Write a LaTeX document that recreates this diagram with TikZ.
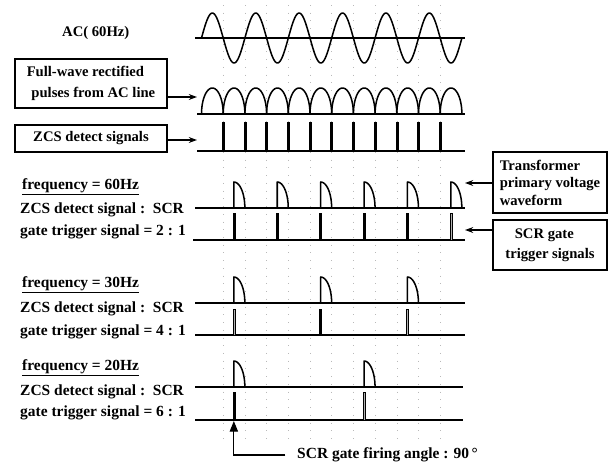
\documentclass[tikz,border=0pt]{standalone}
\usepackage{fontspec}
\setmainfont{Liberation Serif}
\usepackage{tikz}
\usetikzlibrary{positioning,arrows.meta}
\tikzset{
  ax/.style={draw=black, line width=1.4pt},
  wv/.style={draw=black, line width=1.3pt, line join=round},
  spk/.style={draw=black, fill=black, line width=0.5pt},
  spkg/.style={draw=black, fill=gray!60, line width=0.5pt},
  grd/.style={draw=gray!55, line width=0.5pt, dash pattern=on 0.6pt off 6pt},
  tbox/.style={draw=black, line width=1.2pt, inner sep=4pt, align=left, font=\fontsize{12.5}{15}\selectfont\bfseries},
  lbl/.style={anchor=west, inner sep=0pt, font=\fontsize{13.2}{15}\selectfont\bfseries},
  pt/.style={draw=black, line width=1.2pt, -{Stealth[length=7pt,width=5pt]}},
  firept/.style={draw=black, line width=0.9pt, -{Triangle[length=9pt,width=7pt]}},
  timing/.style={x=0.03cm, y=-0.03cm}
}

\begin{document}
\begin{tikzpicture}[timing]
  \useasboundingbox (0,0) rectangle (610,465);
  % faint grid at the zero crossings
  \foreach \k in {1,...,11}
    \draw[grd] ({201.5+21.7*\k},5) -- ({201.5+21.7*\k},440);

  % AC line
  \node[lbl, font=\fontsize{12.5}{15}\selectfont\bfseries] (ac) at (62,33) {AC( 60Hz)};
  \draw[ax] (195,38) -- (465,38);
  \draw[wv] plot[variable=\t, domain=0:12, samples=241] ({201.5+21.7*\t},{38-25*sin(\t*180)});

  % full-wave rectified
  \node[tbox, minimum width=4.56cm, minimum height=1.47cm] (fw) at (91,83.5)
    {Full-wave rectified\\[3pt]\hspace*{4pt}pulses from AC line};
  \draw[ax] (197,114) -- (465,114);
  \foreach \k in {0,...,11}
    \draw[wv] plot[variable=\t, domain=0:180, samples=25]
      ({201.5+21.7*\k+10.85*(1-cos(\t))},{114-26*sin(\t)});
  \coordinate (fwa) at (197,97);
  \draw[pt] (fw.east |- fwa) -- (fwa);

  % ZCS detect signals
  \node[tbox, align=center, minimum width=4.56cm, minimum height=0.81cm] (zcs) at (91,138.5)
    {ZCS detect signals};
  \draw[ax] (197,151) -- (465,151);
  \foreach \k in {1,...,11}
    \draw[spk] ({201.5+21.7*\k-1},151) rectangle ({201.5+21.7*\k+1},122);
  \coordinate (zca) at (197,140);
  \draw[pt] (zcs.east |- zca) -- (zca);

  % 60Hz
  \node[lbl] (f60) at (22,187) {\underline{frequency = 60Hz}};
  \node[lbl] (z60) at (20,210) {ZCS detect signal :\ \ SCR};
  \node[lbl] (g60) at (20,232) {gate trigger signal = 2 : 1};
  \draw[ax] (195,208) -- (465,208);
  \draw[ax] (193,240) -- (465,240);
  \foreach \k/\s in {0/spk,1/spk,2/spk,3/spk,4/spk,5/spkg}{
    \pgfmathsetmacro{\fx}{233.85+43.4*\k}
    \draw[wv] (\fx,208) -- plot[variable=\t, domain=0:90, samples=20] ({\fx+11*sin(\t)},{208-26*cos(\t)});
    \draw[\s] (\fx-1,240) rectangle (\fx+1,213);
  }

  % 30Hz
  \node[lbl] (f30) at (22,285) {\underline{frequency = 30Hz}};
  \node[lbl] (z30) at (20,309) {ZCS detect signal :\ \ SCR};
  \node[lbl] (g30) at (20,332) {gate trigger signal = 4 : 1};
  \draw[ax] (195,303) -- (465,303);
  \draw[ax] (195,335) -- (465,335);
  \foreach \k/\s in {0/spkg,1/spk,2/spkg}{
    \pgfmathsetmacro{\fx}{233.85+86.8*\k}
    \draw[wv] (\fx,303) -- plot[variable=\t, domain=0:90, samples=20] ({\fx+11*sin(\t)},{303-26*cos(\t)});
    \draw[\s] (\fx-1,335) rectangle (\fx+1,309);
  }

  % 20Hz
  \node[lbl] (f20) at (22,368) {\underline{frequency = 20Hz}};
  \node[lbl] (z20) at (20,392) {ZCS detect signal :\ \ SCR};
  \node[lbl] (g20) at (20,413) {gate trigger signal = 6 : 1};
  \draw[ax] (195,387) -- (463,387);
  \draw[ax] (195,420) -- (463,420);
  \foreach \k/\s in {0/spk,1/spkg}{
    \pgfmathsetmacro{\fx}{233.85+130.2*\k}
    \draw[wv] (\fx,387) -- plot[variable=\t, domain=0:90, samples=20] ({\fx+11*sin(\t)},{387-26*cos(\t)});
    \draw[\s] (\fx-1,420) rectangle (\fx+1,392);
  }

  % right-hand boxes
  \node[tbox, minimum width=3.42cm, minimum height=1.83cm] (trafo) at (550,182.5)
    {Transformer\\primary voltage\\waveform};
  \coordinate (tfa) at (465,183);
  \draw[pt] (trafo.west |- tfa) -- (tfa);
  \node[tbox, minimum width=3.42cm, minimum height=1.5cm] (gate) at (550,245)
    {\hspace*{8pt}SCR gate\\[2pt]trigger signals};
  \coordinate (gta) at (465,230);
  \draw[pt] (gate.west |- gta) -- (gta);

  % firing angle
  \node[lbl] (firing) at (297,455) {SCR gate firing angle : 90\,°};
  \coordinate (fire) at (233.85,421);
  \draw[firept] ([xshift=-10pt]firing.west) -| (fire);
\end{tikzpicture}
\end{document}
